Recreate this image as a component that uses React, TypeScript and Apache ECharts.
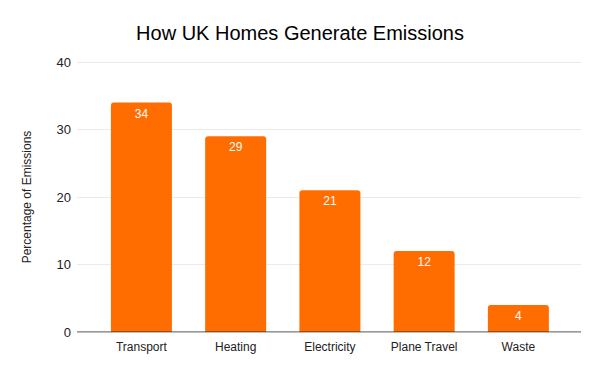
import React, { useEffect, useRef } from "react";
import * as echarts from "echarts";

const categories = ["Transport", "Heating", "Electricity", "Plane Travel", "Waste"];
const values = [34, 29, 21, 12, 4];
const yTicks = [0, 10, 20, 30, 40];

export default function App() {
  const ref = useRef<HTMLDivElement>(null);
  useEffect(() => {
    if (!ref.current) return;
    const chart = echarts.init(ref.current, undefined, { renderer: "svg" });
    const font = "Arial, 'Liberation Sans', sans-serif";
    chart.setOption({
      animation: false,
      backgroundColor: "#ffffff",
      title: {
        text: "How UK Homes Generate Emissions",
        left: "center",
        top: 18,
        textStyle: { fontFamily: font, fontSize: 20, fontWeight: "normal", color: "#000000" },
      },
      grid: [
        { left: 77, right: 19, top: 62, bottom: 39 },
        { left: 94.3, right: 34.5, top: 62, bottom: 39 },
      ],
      xAxis: [
        {
          gridIndex: 0,
          type: "value",
          min: 0,
          max: 1,
          show: true,
          axisLine: { show: false },
          axisTick: { show: false },
          axisLabel: { show: false },
          splitLine: { show: false },
        },
        {
          gridIndex: 1,
          type: "category",
          data: categories,
          axisLine: { show: false },
          axisTick: { show: false },
          axisLabel: { fontFamily: font, fontSize: 12, color: "#222222", margin: 9 },
        },
      ],
      yAxis: [
        {
          gridIndex: 0,
          type: "value",
          min: yTicks[0],
          max: yTicks[yTicks.length - 1],
          interval: 10,
          name: "Percentage of Emissions",
          nameLocation: "middle",
          nameGap: 44,
          nameTextStyle: { fontFamily: font, fontSize: 12, color: "#222222" },
          axisLine: { show: false },
          axisTick: { show: false },
          axisLabel: { fontFamily: font, fontSize: 13, color: "#222222", margin: 6 },
          splitLine: { lineStyle: { color: "#ebebeb", width: 1 } },
        },
        {
          gridIndex: 1,
          type: "value",
          min: 0,
          max: 40,
          interval: 10,
          show: false,
          splitLine: { show: false },
        },
      ],
      series: [
        {
          type: "line",
          xAxisIndex: 0,
          yAxisIndex: 0,
          data: [[0, 0], [1, 0]],
          symbol: "none",
          lineStyle: { color: "#333333", width: 1 },
          silent: true,
          z: 5,
        },
        {
          type: "bar",
          xAxisIndex: 1,
          yAxisIndex: 1,
          data: values,
          barWidth: 61,
          itemStyle: { color: "#ff6d01", borderRadius: [3, 3, 0, 0] },
          label: {
            show: true,
            position: "insideTop",
            distance: 5,
            color: "#ffffff",
            fontFamily: font,
            fontSize: 12,
          },
          z: 3,
        },
      ],
    });
    return () => chart.dispose();
  }, []);
  return <div ref={ref} style={{ width: 600, height: 371, margin: -8 }} />;
}
